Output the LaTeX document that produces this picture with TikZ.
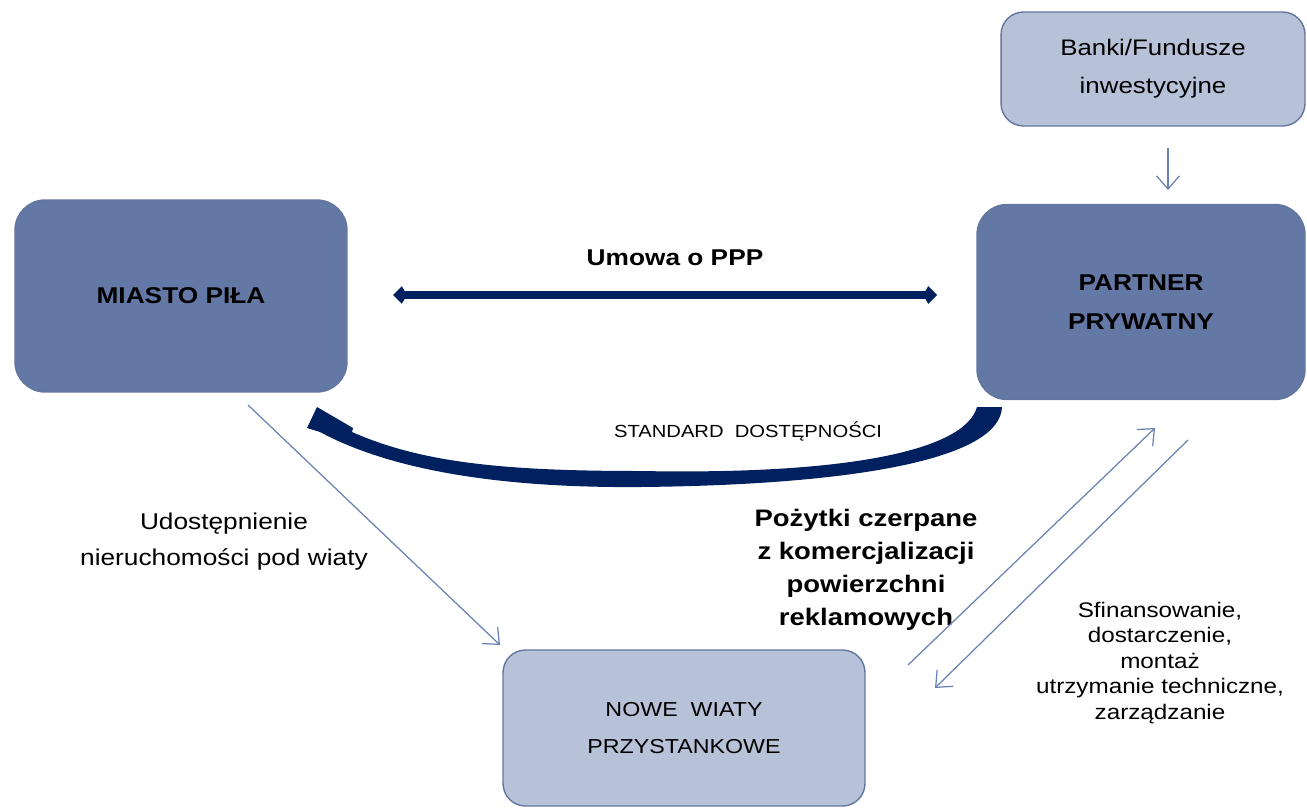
\documentclass[tikz,border=0pt]{standalone}
\usepackage{fontspec}
\setmainfont[FakeStretch=1.15]{Liberation Sans}
\usepackage{tikz}
\usetikzlibrary{positioning, calc, arrows.meta}
\definecolor{boxdark}{RGB}{100,120,166}
\definecolor{boxlight}{RGB}{183,194,216}
\definecolor{boxedge}{RGB}{98,118,160}
\definecolor{navy}{RGB}{0,32,96}
\definecolor{thinline}{RGB}{105,128,180}

\begin{document}
\begin{tikzpicture}
    [x=0.02cm, y=-0.02cm,
    darknode/.style={rectangle, rounded corners=0.6cm, draw=boxedge, fill=boxdark, line width=0.8pt, align=center, font=\fontsize{13}{22}\selectfont\bfseries},
    lightnode/.style={rectangle, rounded corners=0.45cm, draw=boxedge, fill=boxlight, line width=0.8pt, align=center, font=\fontsize{11.5}{21.5}\selectfont},
    textnode/.style={align=center, inner sep=0pt},
    thinarrow/.style={draw=thinline, line width=0.7pt, -{Straight Barb[length=7.5pt,width=13pt]}},
    thickarrow/.style={draw=navy, line width=4.5pt, {Kite[length=8pt,width=10pt,inset=3pt]}-{Kite[length=8pt,width=10pt,inset=3pt]}}]

    \useasboundingbox (0,0) rectangle (1307,808);

    %Nodes
    \node[darknode, minimum width=6.64cm, minimum height=3.84cm](M) at (181,296){MIASTO PIŁA};
    \node[darknode, minimum width=6.56cm, minimum height=3.9cm](P) at (1141,302){PARTNER\\PRYWATNY};
    \node[lightnode, minimum width=6.08cm, minimum height=2.28cm, font=\fontsize{12.8}{21.5}\selectfont](B) at (1153,69){Banki/Fundusze\\inwestycyjne};
    \node[lightnode, minimum width=7.24cm, minimum height=3.12cm](W) at (684,728){NOWE\ \ WIATY\\PRZYSTANKOWE};

    %Labels
    \node[textnode, font=\fontsize{13}{16}\selectfont\bfseries](U) at (675,258){Umowa o PPP};
    \node[textnode, font=\fontsize{10}{12}\selectfont](S) at (748,431){STANDARD\ \ DOSTĘPNOŚCI};
    \node[textnode, font=\fontsize{13}{20.4}\selectfont](N) at (224,542){Udostępnienie\\nieruchomości pod wiaty};
    \node[textnode, font=\fontsize{13.6}{18.7}\selectfont\bfseries](K) at (866,570){Pożytki czerpane\\z komercjalizacji\\powierzchni\\reklamowych};
    \node[textnode, font=\fontsize{12}{14.5}\selectfont](F) at (1160,663){Sfinansowanie,\\dostarczenie,\\montaż\\utrzymanie techniczne,\\zarządzanie};

    %Arrow ends
    \coordinate (M1) at (248,405);
    \coordinate (W1) at (500,645);
    \coordinate (W2) at (908,665);
    \coordinate (P1) at (1155,428);
    \coordinate (P2) at (1188,440);
    \coordinate (W3) at (935,688);
    \coordinate (B1) at (1168,148);
    \coordinate (P3) at (1168,190);
    \coordinate (U1) at (393,295);
    \coordinate (U2) at (937,295);

    %Connectors
    \draw[thickarrow] (U1) -- (U2);
    \draw[thinarrow] (M1) -- (W1);
    \draw[thinarrow] (W2) -- (P1);
    \draw[thinarrow] (P2) -- (W3);
    \draw[thinarrow] (B1) -- (P3);

    %Curved band from P to M
    \fill[navy] (977,407) .. controls (965,450) and (850,475) .. (640,471)
        .. controls (500,471) and (420,462) .. (352,432)
        -- (353,428) -- (317,407) -- (307,428) -- (320,432)
        .. controls (400,475) and (520,488) .. (640,487)
        .. controls (850,485) and (1000,460) .. (1002,407) -- cycle;
\end{tikzpicture}
\end{document}
